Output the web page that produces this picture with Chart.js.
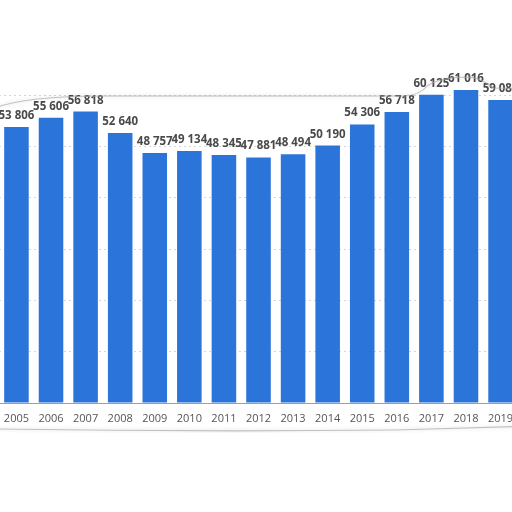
<!DOCTYPE html>
<html>
<head>
<meta charset="utf-8">
<script src="https://cdn.jsdelivr.net/npm/chart.js@4.4.0/dist/chart.umd.min.js"></script>
<style>
  html, body { margin:0; padding:0; background:#fff; overflow:hidden; width:512px; height:512px; }
  #wrap { position:absolute; left:-5px; top:0; width:527px; height:433px; }
</style>
</head>
<body>
<div id="wrap"><canvas id="c"></canvas></div>
<script>
const years = ['2005','2006','2007','2008','2009','2010','2011','2012','2013','2014','2015','2016','2017','2018','2019'];
const values = [53806,55606,56818,52640,48757,49134,48345,47881,48494,50190,54306,56718,60125,61016,59080];
const valueLabels = ['53 806','55 606','56 818','52 640','48 757','49 134','48 345','47 881','48 494','50 190','54 306','56 718','60 125','61 016','59 080'];
const yTicks = [0,10000,20000,30000,40000,50000,60000];

const labelPlugin = {
  id:'valueLabels',
  afterDatasetsDraw(chart){
    const ctx = chart.ctx;
    const meta = chart.getDatasetMeta(0);
    ctx.save();
    ctx.font = 'bold 11.5px "Open Sans", sans-serif';
    ctx.fillStyle = '#4a4a4a';
    ctx.textAlign = 'center';
    ctx.textBaseline = 'alphabetic';
    meta.data.forEach((bar,i)=>{
      ctx.fillText(valueLabels[i], bar.x, bar.y - 8);
    });
    ctx.restore();
  }
};

const tearPlugin = {
  id:'tear',
  afterDraw(chart){
    const ctx = chart.ctx;
    ctx.save();
    ctx.strokeStyle = 'rgba(170,170,170,0.7)';
    ctx.lineWidth = 1.2;
    ctx.shadowColor = 'rgba(0,0,0,0.25)';
    ctx.shadowBlur = 4;
    // top edge
    ctx.beginPath();
    ctx.moveTo(0,108);
    ctx.quadraticCurveTo(30,96,110,96);
    ctx.lineTo(410,96);
    ctx.quadraticCurveTo(425,95,432,86);
    ctx.quadraticCurveTo(445,77,475,77);
    ctx.quadraticCurveTo(488,79,498,88);
    ctx.lineTo(540,89);
    ctx.stroke();
    // bottom edge
    ctx.beginPath();
    ctx.moveTo(0,429);
    ctx.quadraticCurveTo(200,432,400,430);
    ctx.quadraticCurveTo(470,428,540,426);
    ctx.stroke();
    ctx.restore();
  }
};

new Chart(document.getElementById('c'), {
  type:'bar',
  data:{ labels: years, datasets:[{ data: values, backgroundColor:'#2a74da', borderWidth:0, categoryPercentage:1, barPercentage:0.71 }]},
  options:{
    responsive:true, maintainAspectRatio:false, animation:false,
    layout:{ padding:{ top:44, left:0, right:0, bottom:0 } },
    plugins:{ legend:{display:false}, tooltip:{enabled:false} },
    scales:{
      x:{
        grid:{ display:false, drawTicks:false },
        border:{ display:true, color:'#8fa0b8', width:1 },
        ticks:{ color:'#555', font:{ family:'"Open Sans", sans-serif', size:11 }, padding:9, maxRotation:0, autoSkip:false },
        afterFit(scale){ scale.height = 30; }
      },
      y:{
        min:0, max:70000,
        afterBuildTicks(scale){ scale.ticks = yTicks.map(v=>({value:v})); },
        ticks:{ display:false },
        grid:{ color:'#d6d6d6', drawTicks:false, lineWidth:1 },
        border:{ display:false, dash:[2,3] },
        afterFit(scale){ scale.width = 0; }
      }
    }
  },
  plugins:[labelPlugin, tearPlugin]
});
</script>
</body>
</html>
